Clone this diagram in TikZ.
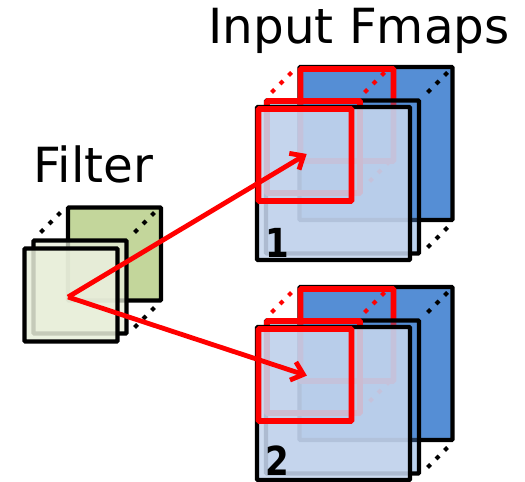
\documentclass[tikz,border=0pt]{standalone}
\usepackage{fontspec}
\setmainfont{DejaVu Sans}
\usetikzlibrary{arrows.meta}
\definecolor{fmapblue}{HTML}{558ED5}
\definecolor{fmaplight}{HTML}{C6D6EE}
\definecolor{filtgreen}{HTML}{C3D69B}
\definecolor{filtlight}{HTML}{E8EEDA}
\tikzset{
  sheet/.style={draw=black, line width=2.2pt, rounded corners=.5pt, inner sep=0pt, minimum width=#1, minimum height=#1},
  bigsheet/.style={sheet=76.5pt},
  smallsheet/.style={sheet=46.5pt},
  window/.style={draw=red, line width=2.9pt, rounded corners=.5pt, inner sep=0pt, minimum width=46.5pt, minimum height=46pt},
  dotrun/.style={line width=2.1pt, dash pattern=on 2.1pt off 3.9pt},
  title/.style={font=\fontsize{24.2}{29}\selectfont, inner sep=0pt},
  number/.style={font=\fontsize{20}{24}\selectfont\bfseries, inner sep=0pt},
  sweep/.style={draw=red, line width=2.4pt, shorten >=-1pt, -{Straight Barb[length=5.5pt,width=9.5pt,line width=2.4pt]}},
}
\begin{document}
\begin{tikzpicture}[x=0.5pt, y=-0.5pt]
    \useasboundingbox (0,0) rectangle (525,482);
    \node[title] (fmaptitle) at (359,31) {Input Fmaps};
    \node[title] (filttitle) at (93.5,164) {Filter};
    % filter stack
    \node[smallsheet, fill=filtgreen] (filtback) at (114.5,254) {};
    \draw[dotrun] (60.5,212.5) -- (40,233);
    \draw[dotrun] (154.5,212.5) -- (134,233);
    \draw[dotrun] (154.5,307.5) -- (134,328);
    \node[smallsheet, fill=filtlight, fill opacity=.75] (filtmid) at (80,287) {};
    \node[smallsheet, fill=filtlight, fill opacity=.85] (filtfront) at (71,295) {};
    \coordinate (hub) at (68,297);
    % fmap stacks
    \foreach \n/\dy/\numy in {1/0/242.5, 2/220/241} {
      \begin{scope}[yshift=-\dy*0.5pt]
        \node[bigsheet, fill=fmapblue] (back\n) at (376,143.5) {};
        \node[window] (winback\n) at (347,115) {};
        \draw[dotrun, red] (291.5,72.5) -- (271,93);
        \draw[dotrun, red] (384.5,72.5) -- (364,93);
        \draw[dotrun, red] (389.5,161.5) -- (369,182);
        \draw[dotrun] (447.5,72.5) -- (427,93);
        \draw[dotrun] (447.5,227.5) -- (427,248);
        \node[bigsheet, fill=fmapblue, fill opacity=.4] (mid\n) at (342.5,177) {};
        \node[window] (winmid\n) at (313.5,147) {};
        \node[bigsheet, fill=fmaplight, fill opacity=.88] (front\n) at (333.5,183.5) {};
        \node[window] (winfront\n) at (305,155) {};
        \node[number] (num\n) at (277,\numy) {\scalebox{.85}[1]{\n}};
      \end{scope}
    }
    \draw[sweep] (hub) -- (winfront1.center);
    \draw[sweep] (hub) -- (winfront2.center);
\end{tikzpicture}
\end{document}
